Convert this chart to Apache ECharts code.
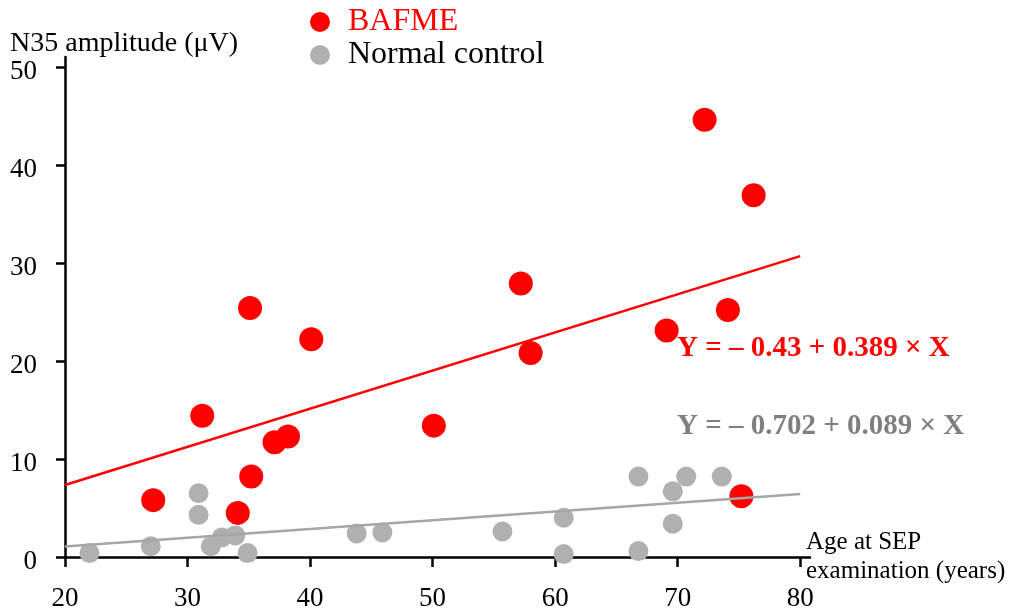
<!DOCTYPE html>
<html>
<head>
<meta charset="utf-8">
<script src="https://cdn.jsdelivr.net/npm/echarts@6/dist/echarts.min.js"></script>
<style>
  html, body { margin: 0; padding: 0; background: #fff; }
  #chart { width: 1011px; height: 614px; }
</style>
</head>
<body>
<div id="chart"></div>
<script>
// BAFME patients: age at SEP examination and N35 amplitude
var bafmeAge = [27.2, 31.2, 34.1, 35.2, 35.1, 37.1, 38.2, 40.1, 50.1, 57.2, 58.0, 69.1, 72.2, 74.1, 76.2, 75.2];
var bafmeAmp = [5.8, 14.4, 4.5, 8.2, 25.4, 11.7, 12.3, 22.2, 13.4, 27.9, 20.8, 23.1, 44.6, 25.2, 36.9, 6.2];

// normal controls
var controlAge = [22.0, 27.0, 30.9, 30.9, 31.9, 32.8, 33.9, 34.9, 43.8, 45.9, 55.7, 60.7, 60.7, 66.8, 66.8, 69.6, 69.6, 70.7, 73.6];
var controlAmp = [0.4, 1.1, 6.5, 4.3, 1.1, 2.0, 2.2, 0.4, 2.4, 2.5, 2.6, 4.0, 0.3, 8.2, 0.6, 6.7, 3.4, 8.2, 8.2];

// regression lines Y = a + b * X
var bafmeFit = [-0.43, 0.389];
var controlFit = [-0.702, 0.089];
var fitRange = [20, 80];

// axes: the drawn lines run a little past the last tick
var xRange = [20, 80.8];
var yRange = [0, 51];
var xTickValues = [20, 30, 40, 50, 60, 70, 80];
var yTickValues = [0, 10, 20, 30, 40, 50];

var FONT = '"Liberation Serif", "Times New Roman", serif';
var RED = '#ff0000';
var GRAY = '#b0b0b0';

var chart = echarts.init(document.getElementById('chart'));

function zipPoints(xs, ys) {
    return xs.map(function (x, i) { return [x, ys[i]]; });
}

function fitLine(coef) {
    return fitRange.map(function (x) { return [x, coef[0] + coef[1] * x]; });
}

var option = {
    animation: false,
    backgroundColor: '#fff',
    grid: {
        left: 65,
        right: 201,
        top: 57,
        bottom: 57,
        outerBoundsMode: 'none'
    },
    legend: {
        orient: 'vertical',
        left: 305,
        top: 1,
        itemGap: 1,
        itemWidth: 20,
        itemHeight: 20,
        icon: 'circle',
        textStyle: { fontFamily: FONT, fontSize: 32, color: '#000', padding: [0, 0, 0, 13] },
        data: [
            { name: 'BAFME', textStyle: { color: RED } },
            { name: 'Normal control' }
        ]
    },
    xAxis: {
        type: 'value',
        min: xRange[0],
        max: xRange[1],
        name: 'Age at SEP\nexamination (years)',
        nameLocation: 'end',
        nameGap: -4,
        nameMoveOverlap: false,
        nameTextStyle: { fontFamily: FONT, fontSize: 25, color: '#000', lineHeight: 29, align: 'left' },
        splitLine: { show: false },
        axisLine: { lineStyle: { color: '#000', width: 2.5 } },
        axisTick: { length: 10, customValues: xTickValues, lineStyle: { color: '#000', width: 2.5 } },
        axisLabel: { fontFamily: FONT, fontSize: 27, color: '#000', margin: 28, customValues: xTickValues }
    },
    yAxis: {
        type: 'value',
        min: yRange[0],
        max: yRange[1],
        splitLine: { show: false },
        axisLine: { show: true, lineStyle: { color: '#000', width: 2.5 } },
        axisTick: { show: true, length: 9, customValues: yTickValues, lineStyle: { color: '#000', width: 2.5 } },
        axisLabel: {
            fontFamily: FONT, fontSize: 27, color: '#000', margin: 28,
            verticalAlign: 'top', lineHeight: 10,
            customValues: yTickValues
        }
    },
    graphic: [
        {
            type: 'text',
            left: 10,
            top: 30,
            style: { text: 'N35 amplitude (\u03bcV)', font: '28px ' + FONT, fill: '#000' }
        },
        {
            type: 'text',
            left: 677,
            top: 334,
            style: { text: 'Y = \u2013 0.43 + 0.389 \u00d7 X', font: 'bold 29px ' + FONT, fill: RED }
        },
        {
            type: 'text',
            left: 677,
            top: 412,
            style: { text: 'Y = \u2013 0.702 + 0.089 \u00d7 X', font: 'bold 29px ' + FONT, fill: '#7f7f7f' }
        }
    ],
    series: [
        {
            name: 'BAFME',
            type: 'scatter',
            symbolSize: 24,
            itemStyle: { color: RED, opacity: 1 },
            data: zipPoints(bafmeAge, bafmeAmp),
            z: 3
        },
        {
            name: 'Normal control',
            type: 'scatter',
            symbolSize: 20,
            itemStyle: { color: GRAY, opacity: 1 },
            data: zipPoints(controlAge, controlAmp),
            z: 3
        },
        {
            type: 'line',
            silent: true,
            showSymbol: false,
            lineStyle: { color: RED, width: 2.5 },
            data: fitLine(bafmeFit),
            z: 4
        },
        {
            type: 'line',
            silent: true,
            showSymbol: false,
            lineStyle: { color: '#a6a6a6', width: 2.5 },
            data: fitLine(controlFit),
            z: 4
        }
    ]
};

chart.setOption(option);
</script>
</body>
</html>
